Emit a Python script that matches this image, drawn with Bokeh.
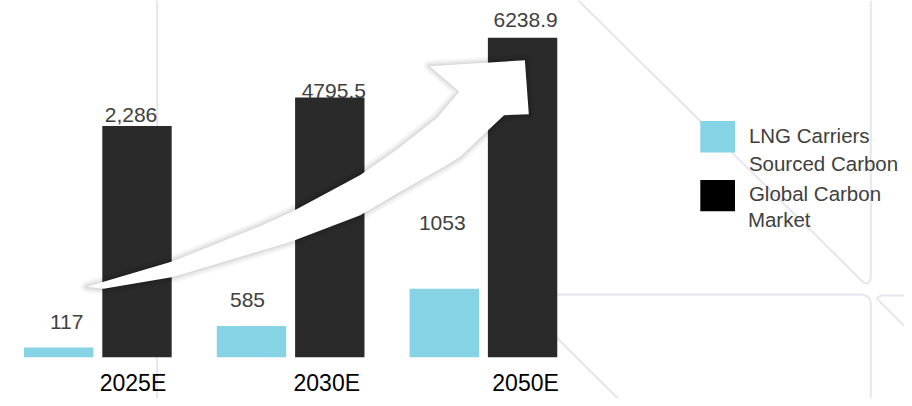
import numpy as np
from bokeh.plotting import figure
from bokeh.models import Range1d
from bokeh.core.properties import value
from bokeh.embed import file_html
from bokeh.resources import INLINE

# ---------------- data ----------------
years = ["2025E", "2030E", "2050E"]
lng_labels = ["117", "585", "1053"]
global_labels = ["2,286", "4795.5", "6238.9"]
# bar heights as drawn in the (not-to-scale) graphic, read against the tallest bar = 6238.9
lng_bar = [191, 612, 1340]
global_bar = [4517, 5072, 6238.9]
legend_lines = [["LNG Carriers", "Sourced Carbon"], ["Global Carbon", "Market"]]

# ---------------- styles ----------------
BLUE = "#85d3e4"
DARK = "#2a2a2a"
TXT = "#404040"
BG_LINE = "#e5e5ef"
FONT = "Liberation Sans"

VPX = 6238.9 / 326.0     # value units per reference pixel
GPX = 194.5              # reference pixels per category step
TXT_FIX = 7              # baseline correction (px) for alphabetic text placement


def X(px):
    return (px - 98.2) / GPX


def Y(py):
    return (364 - py) * VPX


DODGE = 39.5 / GPX
BW = 70 / GPX

p = figure(width=904, height=398,
           x_range=Range1d(X(0), X(912)), y_range=Range1d(Y(406), Y(0)),
           output_backend="svg", toolbar_location=None, min_border=0,
           x_axis_location=None, y_axis_location=None)
p.outline_line_color = None
p.grid.visible = False
p.background_fill_color = "white"
p.border_fill_color = "white"

# ---------------- background decoration ----------------
bg_paths = [
    [(158, 0), (158, 406)],
    [(583, 0), (869, 286), (873, 289), (877, 287), (878, 282), (878, 0)],
    [(495, 300), (869, 300), (875, 302), (878, 307), (878, 406)],
    [(912, 301), (888, 301), (884, 304), (912, 332)],
    [(520, 303), (623, 406)],
]
p.multi_line(xs=[[X(a) for a, b in path] for path in bg_paths],
             ys=[[Y(b) for a, b in path] for path in bg_paths],
             line_color=BG_LINE, line_width=2, line_join="round")

# ---------------- bars ----------------
idx = np.arange(len(years))
p.vbar(x=idx - DODGE, top=lng_bar, bottom=0, width=BW, fill_color=BLUE, line_color=None)
p.vbar(x=idx + DODGE, top=global_bar, bottom=0, width=BW, fill_color=DARK, line_color=None)

# ---------------- curved arrow ----------------
arrow_px = [
    (87, 292), (104, 287), (174, 266), (260, 231), (293, 216), (363, 178),
    (400, 152), (440, 120), (463, 93),
    (433, 67), (529, 61), (533, 116), (508, 117),
    (463, 160), (450, 168), (400, 197), (363, 219), (293, 246), (260, 256),
    (174, 282), (104, 294),
]
ax = [X(a) for a, b in arrow_px]
ay = [Y(b) for a, b in arrow_px]
for w in (12, 8, 5, 3):
    p.patch(ax, ay, fill_color=None, line_color="black", line_alpha=0.035,
            line_width=w, line_join="round")
p.patch(ax, ay, fill_color="white", line_color=None)

# ---------------- value labels ----------------
lng_gap = [19, 19, 60]
glb_gap = [4, 0, 11]
lng_dx = [8, -4, -2]
glb_dx = [-6, 4, 3]
p.text(x=idx - DODGE, y=[t + (g + TXT_FIX) * VPX for t, g in zip(lng_bar, lng_gap)], text=lng_labels,
       x_offset=lng_dx, text_align="center", text_baseline="alphabetic",
       text_font=value(FONT), text_font_size=value("21px"), text_color=TXT)
p.text(x=idx + DODGE, y=[t + (g + TXT_FIX) * VPX for t, g in zip(global_bar, glb_gap)], text=global_labels,
       x_offset=glb_dx, text_align="center", text_baseline="alphabetic",
       text_font=value(FONT), text_font_size=value("21px"), text_color=TXT)

# ---------------- category labels ----------------
p.text(x=idx + DODGE, y=[Y(397 - TXT_FIX)] * len(years), text=years, x_offset=[-4, -3, 3],
       text_align="center", text_baseline="alphabetic",
       text_font=value(FONT), text_font_size=value("23px"), text_color="black")

# ---------------- legend ----------------
p.quad(left=[X(706), X(706)], right=[X(741), X(741)],
       top=[Y(123), Y(183)], bottom=[Y(155), Y(215)],
       fill_color=[BLUE, "black"], line_color=None)
leg_text = [legend_lines[0][0], legend_lines[0][1], legend_lines[1][0], legend_lines[1][1]]
p.text(x=[X(755), X(755), X(755), X(754)],
       y=[Y(145 - TXT_FIX), Y(173 - TXT_FIX), Y(204 - TXT_FIX), Y(230 - TXT_FIX)], text=leg_text,
       text_align="left", text_baseline="alphabetic",
       text_font=value(FONT), text_font_size=value("20.5px"), text_color=TXT)

open("out.html", "w").write(file_html(p, INLINE))
